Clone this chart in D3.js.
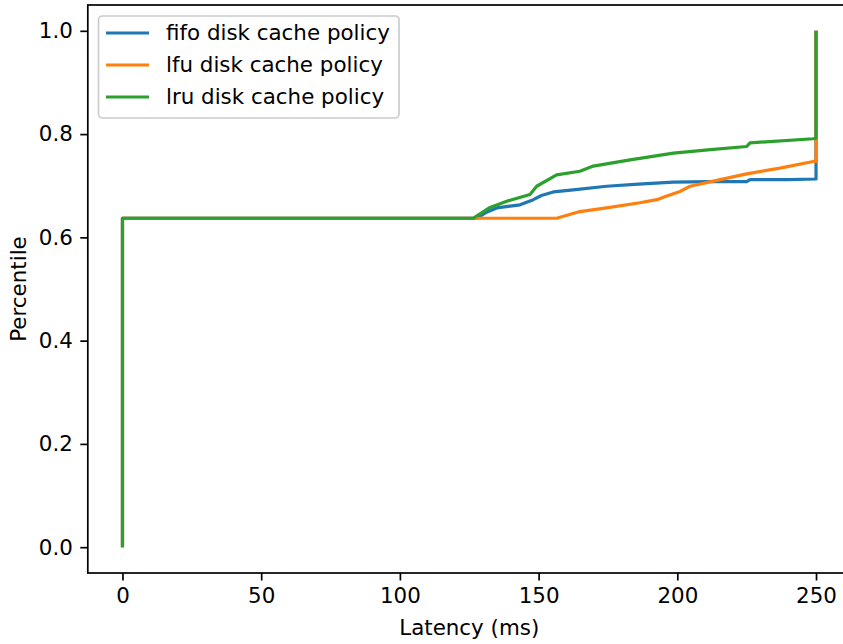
<!DOCTYPE html>
<html>
<head>
<meta charset="utf-8">
<script src="https://cdn.jsdelivr.net/npm/d3@7"></script>
<style>
  html, body { margin: 0; padding: 0; background: #fff; }
  svg { display: block; }
  text { font-family: "DejaVu Sans", sans-serif; fill: #000; }
</style>
</head>
<body>
<div id="chart"></div>
<script>
// ---- data ----
const seriesNames = ["fifo disk cache policy", "lfu disk cache policy", "lru disk cache policy"];
const seriesColors = ["#1f77b4", "#ff7f0e", "#2ca02c"];

const fifoX = [0, 0, 127.6, 131, 134.9, 139, 143.3, 148.1, 151, 155.3, 162.5, 174.5, 186, 198.6, 212, 225, 226.2, 240, 250, 250];
const fifoY = [0, 0.637, 0.637, 0.648, 0.657, 0.660, 0.663, 0.673, 0.681, 0.688, 0.692, 0.699, 0.703, 0.707, 0.708, 0.708, 0.712, 0.712, 0.713, 1.0];

const lfuX = [0, 0, 156.5, 164.9, 174.5, 186.5, 192.6, 196.2, 201, 204.6, 213, 225, 237, 249, 250, 250];
const lfuY = [0, 0.637, 0.637, 0.650, 0.657, 0.667, 0.673, 0.680, 0.689, 0.699, 0.709, 0.723, 0.734, 0.747, 0.747, 1.0];

const lruX = [0, 0, 126.4, 132.5, 138.5, 146.9, 149.3, 156.5, 164.9, 169.7, 183, 198.6, 212, 225, 226.2, 249, 250, 250];
const lruY = [0, 0.637, 0.637, 0.658, 0.670, 0.683, 0.699, 0.721, 0.728, 0.738, 0.750, 0.763, 0.770, 0.776, 0.783, 0.791, 0.792, 1.0];

const xTicks = [0, 50, 100, 150, 200, 250];
const yTicks = [0.0, 0.2, 0.4, 0.6, 0.8, 1.0];
const xLabel = "Latency (ms)";
const yLabel = "Percentile";

// ---- layout ----
const W = 843, H = 644;
const plot = { left: 87.8, right: 850.7, top: 5, bottom: 573 };
const fs = 21.4;

const svg = d3.select("#chart").append("svg").attr("width", W).attr("height", H);

const x = d3.scaleLinear().domain([-12.5, 262.5]).range([plot.left, plot.right]);
const y = d3.scaleLinear().domain([-0.05, 1.05]).range([plot.bottom, plot.top]);

const series = [
  { name: seriesNames[0], color: seriesColors[0], xs: fifoX, ys: fifoY },
  { name: seriesNames[1], color: seriesColors[1], xs: lfuX, ys: lfuY },
  { name: seriesNames[2], color: seriesColors[2], xs: lruX, ys: lruY }
];

const line = d3.line().x(d => x(d[0])).y(d => y(d[1]));

const plotG = svg.append("g");
plotG.append("clipPath").attr("id", "clip").append("rect")
  .attr("x", plot.left).attr("y", plot.top)
  .attr("width", plot.right - plot.left).attr("height", plot.bottom - plot.top);

const lines = plotG.append("g").attr("clip-path", "url(#clip)");
series.forEach(s => {
  lines.append("path")
    .datum(s.xs.map((v, i) => [v, s.ys[i]]))
    .attr("d", line)
    .attr("fill", "none")
    .attr("stroke", s.color)
    .attr("stroke-width", 3.2)
    .attr("stroke-linejoin", "round")
    .attr("stroke-linecap", "butt");
});

// axes
const xAxis = d3.axisBottom(x).tickValues(xTicks).tickFormat(d3.format("d"))
  .tickSize(7.5).tickPadding(7.5);
const yAxis = d3.axisLeft(y).tickValues(yTicks).tickFormat(d3.format(".1f"))
  .tickSize(7.5).tickPadding(7.5);

const gx = svg.append("g").attr("transform", `translate(0,${plot.bottom})`).call(xAxis);
const gy = svg.append("g").attr("transform", `translate(${plot.left},0)`).call(yAxis);
[gx, gy].forEach(g => {
  g.select(".domain").remove();
  g.selectAll(".tick line").attr("stroke", "#000").attr("stroke-width", 1.7);
  g.selectAll(".tick text").attr("font-size", fs).attr("font-family", "DejaVu Sans").attr("fill", "#000");
});

// frame
svg.append("rect")
  .attr("x", plot.left).attr("y", plot.top)
  .attr("width", plot.right - plot.left).attr("height", plot.bottom - plot.top)
  .attr("fill", "none").attr("stroke", "#000").attr("stroke-width", 1.7);

// axis labels
svg.append("text")
  .attr("x", (plot.left + plot.right) / 2).attr("y", 635)
  .attr("text-anchor", "middle").attr("font-size", fs)
  .text(xLabel);
svg.append("text")
  .attr("transform", `translate(26,${(plot.top + plot.bottom) / 2}) rotate(-90)`)
  .attr("text-anchor", "middle").attr("font-size", fs)
  .text(yLabel);

// legend
const lg = svg.append("g");
lg.append("rect")
  .attr("x", 98.5).attr("y", 16).attr("width", 300.5).attr("height", 102)
  .attr("rx", 4).attr("ry", 4)
  .attr("fill", "#fff").attr("fill-opacity", 0.8)
  .attr("stroke", "#cccccc").attr("stroke-width", 1.7);
series.forEach((s, i) => {
  const cy = 33 + i * 32;
  lg.append("line")
    .attr("x1", 106).attr("x2", 149).attr("y1", cy).attr("y2", cy)
    .attr("stroke", s.color).attr("stroke-width", 3.2);
  lg.append("text")
    .attr("x", 166).attr("y", cy).attr("dy", "0.35em")
    .attr("font-size", fs)
    .text(s.name);
});
</script>
</body>
</html>
